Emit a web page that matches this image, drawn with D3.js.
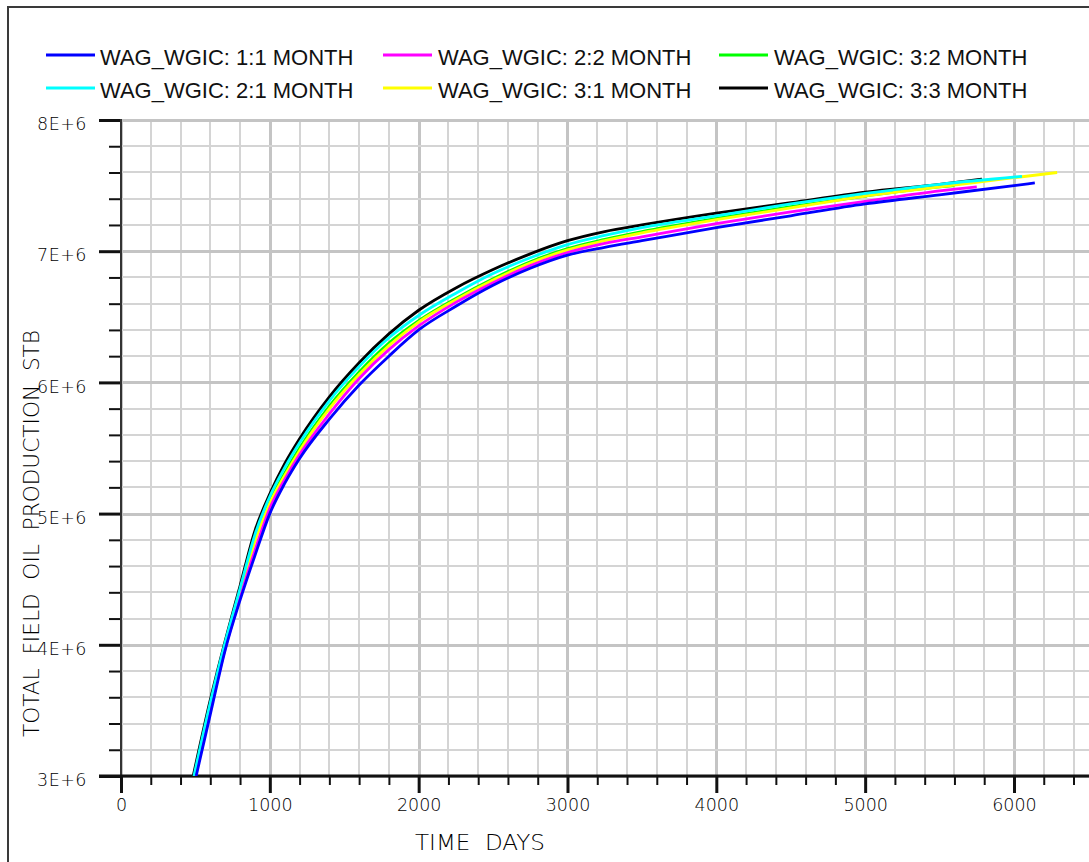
<!DOCTYPE html>
<html>
<head>
<meta charset="utf-8">
<script src="https://cdn.jsdelivr.net/npm/d3@7"></script>
<style>
  html, body { margin: 0; padding: 0; background: #ffffff; }
  svg { display: block; }
</style>
</head>
<body>
<script>
// Cumulative field oil production (million STB) against time (days) for six WAG cycles.
const seriesNames = [
  "WAG_WGIC: 1:1 MONTH", "WAG_WGIC: 2:2 MONTH", "WAG_WGIC: 3:2 MONTH",
  "WAG_WGIC: 2:1 MONTH", "WAG_WGIC: 3:1 MONTH", "WAG_WGIC: 3:3 MONTH"
];
const seriesColors = ["#0000ff", "#ff00ff", "#00ff00", "#00ffff", "#ffff00", "#000000"];

const days11 = [505, 600, 700, 800, 900, 1000, 1100, 1200, 1400, 1600, 1800, 2000, 2250, 2500, 2750, 3000, 3250, 3500, 4000, 4500, 5000, 5500, 6000, 6140];
const wgic11 = [3.00, 3.47, 3.96, 4.34, 4.68, 5.00, 5.23, 5.42, 5.72, 5.98, 6.20, 6.40, 6.58, 6.74, 6.87, 6.97, 7.03, 7.08, 7.18, 7.27, 7.36, 7.43, 7.50, 7.52];

const days22 = [500, 600, 700, 800, 900, 1000, 1100, 1200, 1400, 1600, 1800, 2000, 2250, 2500, 2750, 3000, 3250, 3500, 4000, 4500, 5000, 5500, 5750];
const wgic22 = [3.00, 3.50, 3.97, 4.36, 4.72, 5.04, 5.26, 5.45, 5.76, 6.03, 6.25, 6.43, 6.61, 6.76, 6.89, 6.99, 7.06, 7.11, 7.21, 7.30, 7.38, 7.46, 7.49];

const days32 = [495, 600, 700, 800, 900, 1000, 1100, 1200, 1400, 1600, 1800, 2000, 2250, 2500, 2750, 3000, 3250, 3500, 4000, 4500, 5000, 5500, 5600];
const wgic32 = [3.00, 3.54, 4.00, 4.41, 4.81, 5.10, 5.31, 5.50, 5.82, 6.08, 6.30, 6.47, 6.64, 6.79, 6.92, 7.02, 7.09, 7.15, 7.25, 7.34, 7.42, 7.49, 7.50];

const days21 = [490, 600, 700, 800, 900, 1000, 1100, 1200, 1400, 1600, 1800, 2000, 2250, 2500, 2750, 3000, 3250, 3500, 4000, 4500, 5000, 5500, 6054];
const wgic21 = [3.00, 3.56, 4.02, 4.43, 4.84, 5.13, 5.35, 5.54, 5.86, 6.12, 6.34, 6.51, 6.68, 6.83, 6.95, 7.05, 7.12, 7.18, 7.27, 7.36, 7.44, 7.51, 7.57];

const days31 = [495, 600, 700, 800, 900, 1000, 1100, 1200, 1400, 1600, 1800, 2000, 2250, 2500, 2750, 3000, 3250, 3500, 4000, 4500, 5000, 5500, 6000, 6290];
const wgic31 = [3.00, 3.53, 3.99, 4.39, 4.79, 5.08, 5.29, 5.48, 5.80, 6.06, 6.28, 6.46, 6.63, 6.78, 6.91, 7.01, 7.08, 7.14, 7.24, 7.33, 7.42, 7.49, 7.56, 7.60];

const days33 = [485, 600, 700, 800, 900, 1000, 1100, 1200, 1400, 1600, 1800, 2000, 2250, 2500, 2750, 3000, 3250, 3500, 4000, 4500, 5000, 5500, 5785];
const wgic33 = [3.00, 3.58, 4.03, 4.45, 4.87, 5.15, 5.38, 5.57, 5.89, 6.15, 6.37, 6.55, 6.72, 6.86, 6.98, 7.08, 7.15, 7.20, 7.29, 7.37, 7.45, 7.51, 7.55];

const seriesDays = [days11, days22, days32, days21, days31, days33];
const seriesValues = [wgic11, wgic22, wgic32, wgic21, wgic31, wgic33];

const xTickValues = [0, 1000, 2000, 3000, 4000, 5000, 6000];
const xTickLabels = ["0", "1000", "2000", "3000", "4000", "5000", "6000"];
const yTickValues = [3e6, 4e6, 5e6, 6e6, 7e6, 8e6];
const yTickLabels = ["3E+6", "4E+6", "5E+6", "6E+6", "7E+6", "8E+6"];
const xTitle = "TIME  DAYS";
const yTitle = "TOTAL  FIELD  OIL  PRODUCTION  STB";

const W = 1089, H = 862;
const svg = d3.select("body").append("svg").attr("width", W).attr("height", H);

// outer frame
svg.append("rect").attr("x", 8).attr("y", 7).attr("width", W + 10).attr("height", H + 10)
  .attr("fill", "none").attr("stroke", "#3a3a3a").attr("stroke-width", 2);

const x = d3.scaleLinear().domain([0, 6500]).range([121, 121 + 6.5 * 148.83]);
const y = d3.scaleLinear().domain([3e6, 8e6]).range([776, 120]);
const xRight = W;

// grid
const gGrid = svg.append("g");
d3.range(0, 6500, 200).forEach(v => {
  const major = v % 1000 === 0;
  gGrid.append("line")
    .attr("x1", Math.round(x(v))).attr("x2", Math.round(x(v)))
    .attr("y1", y(8e6)).attr("y2", y(3e6))
    .attr("stroke", major ? "#c4c4c4" : "#d4d4d4")
    .attr("stroke-width", major ? 3 : 2)
    .attr("shape-rendering", "crispEdges");
});
d3.range(3e6, 8e6 + 1, 2e5).forEach(v => {
  const major = Math.abs(v / 1e6 - Math.round(v / 1e6)) < 1e-9;
  gGrid.append("line")
    .attr("x1", x(0)).attr("x2", xRight)
    .attr("y1", Math.round(y(v))).attr("y2", Math.round(y(v)))
    .attr("stroke", major ? "#c4c4c4" : "#d4d4d4")
    .attr("stroke-width", major ? 3 : 2)
    .attr("shape-rendering", "crispEdges");
});

// thin plotter-style lettering for axes
const tickFont = "'DejaVu Sans', 'Liberation Sans', sans-serif";
const tickWeight = 200;

// x axis: minor and major ticks
const xMinor = d3.range(0, 6500, 200).filter(v => v % 1000 !== 0);
const gxMinor = svg.append("g").attr("transform", `translate(0,${y(3e6)})`)
  .call(d3.axisBottom(x).tickValues(xMinor).tickSize(9).tickFormat(""));
gxMinor.select(".domain").remove();
gxMinor.selectAll(".tick line").attr("stroke", "#111").attr("stroke-width", 2);

const gxMajor = svg.append("g").attr("transform", `translate(0,${y(3e6)})`)
  .call(d3.axisBottom(x).tickValues(xTickValues).tickSize(17).tickPadding(6)
    .tickFormat((d, i) => xTickLabels[i]));
gxMajor.select(".domain").remove();
gxMajor.selectAll(".tick line").attr("stroke", "#111").attr("stroke-width", 3);
gxMajor.selectAll(".tick text")
  .attr("font-family", tickFont).attr("font-weight", tickWeight)
  .attr("font-size", 17.5).attr("fill", "#000");

// y axis: minor and major ticks
const yMinor = d3.range(3e6, 8e6 + 1, 2e5).filter(v => Math.abs(v / 1e6 - Math.round(v / 1e6)) > 1e-9);
const gyMinor = svg.append("g").attr("transform", `translate(${x(0)},0)`)
  .call(d3.axisLeft(y).tickValues(yMinor).tickSize(12).tickFormat(""));
gyMinor.select(".domain").remove();
gyMinor.selectAll(".tick line").attr("stroke", "#111").attr("stroke-width", 2);

const gyMajor = svg.append("g").attr("transform", `translate(${x(0)},0)`)
  .call(d3.axisLeft(y).tickValues(yTickValues).tickSize(22).tickPadding(12)
    .tickFormat((d, i) => yTickLabels[i]));
gyMajor.select(".domain").remove();
gyMajor.selectAll(".tick line").attr("stroke", "#111").attr("stroke-width", 3);
gyMajor.selectAll(".tick text")
  .attr("font-family", tickFont).attr("font-weight", tickWeight)
  .attr("font-size", 17.5).attr("fill", "#000")
  .attr("letter-spacing", "0.5px").attr("dy", "0.55em");

// axis lines
svg.append("line").attr("x1", x(0)).attr("x2", x(0)).attr("y1", y(8e6) - 1).attr("y2", y(3e6))
  .attr("stroke", "#333").attr("stroke-width", 2);
svg.append("line").attr("x1", x(0) - 22).attr("x2", xRight).attr("y1", y(3e6)).attr("y2", y(3e6))
  .attr("stroke", "#111").attr("stroke-width", 3);

// curves
svg.append("clipPath").attr("id", "plotClip").append("rect")
  .attr("x", x(0)).attr("y", y(8e6)).attr("width", xRight - x(0)).attr("height", y(3e6) - y(8e6));
const line = d3.line().x(d => x(d[0])).y(d => y(d[1] * 1e6)).curve(d3.curveMonotoneX);
const drawOrder = [5, 2, 4, 1, 3, 0];
const gLines = svg.append("g").attr("clip-path", "url(#plotClip)");
drawOrder.forEach(i => {
  const pts = seriesDays[i].map((d, k) => [d, seriesValues[i][k]]);
  gLines.append("path").datum(pts)
    .attr("d", line)
    .attr("fill", "none")
    .attr("stroke", seriesColors[i])
    .attr("stroke-width", 2.8);
});

// legend (three columns, two rows)
const legendCols = [[46, 100], [383, 438], [719, 774]];
const legendRows = [55, 88];
const legendOrder = [0, 3, 1, 4, 2, 5];
legendOrder.forEach((si, k) => {
  const col = Math.floor(k / 2), row = k % 2;
  const [sx, tx] = legendCols[col];
  const ly = legendRows[row];
  svg.append("line").attr("x1", sx).attr("x2", sx + 49).attr("y1", ly).attr("y2", ly)
    .attr("stroke", seriesColors[si]).attr("stroke-width", 3);
  svg.append("text").attr("x", tx).attr("y", ly + 10)
    .attr("font-family", "'Liberation Sans', Arial, sans-serif").attr("font-size", 22)
    .attr("fill", "#111").text(seriesNames[si]);
});

// axis titles
svg.append("text").attr("x", 415).attr("y", 850)
  .attr("font-family", tickFont).attr("font-weight", tickWeight)
  .attr("font-size", 21).attr("fill", "#000")
  .attr("textLength", 130).attr("lengthAdjust", "spacingAndGlyphs")
  .style("white-space", "pre").text(xTitle);
svg.append("text")
  .attr("transform", "translate(39,737) rotate(-90)")
  .attr("font-family", tickFont).attr("font-weight", tickWeight)
  .attr("font-size", 21).attr("fill", "#000")
  .attr("textLength", 407).attr("lengthAdjust", "spacingAndGlyphs")
  .style("white-space", "pre").text(yTitle);
</script>
</body>
</html>
